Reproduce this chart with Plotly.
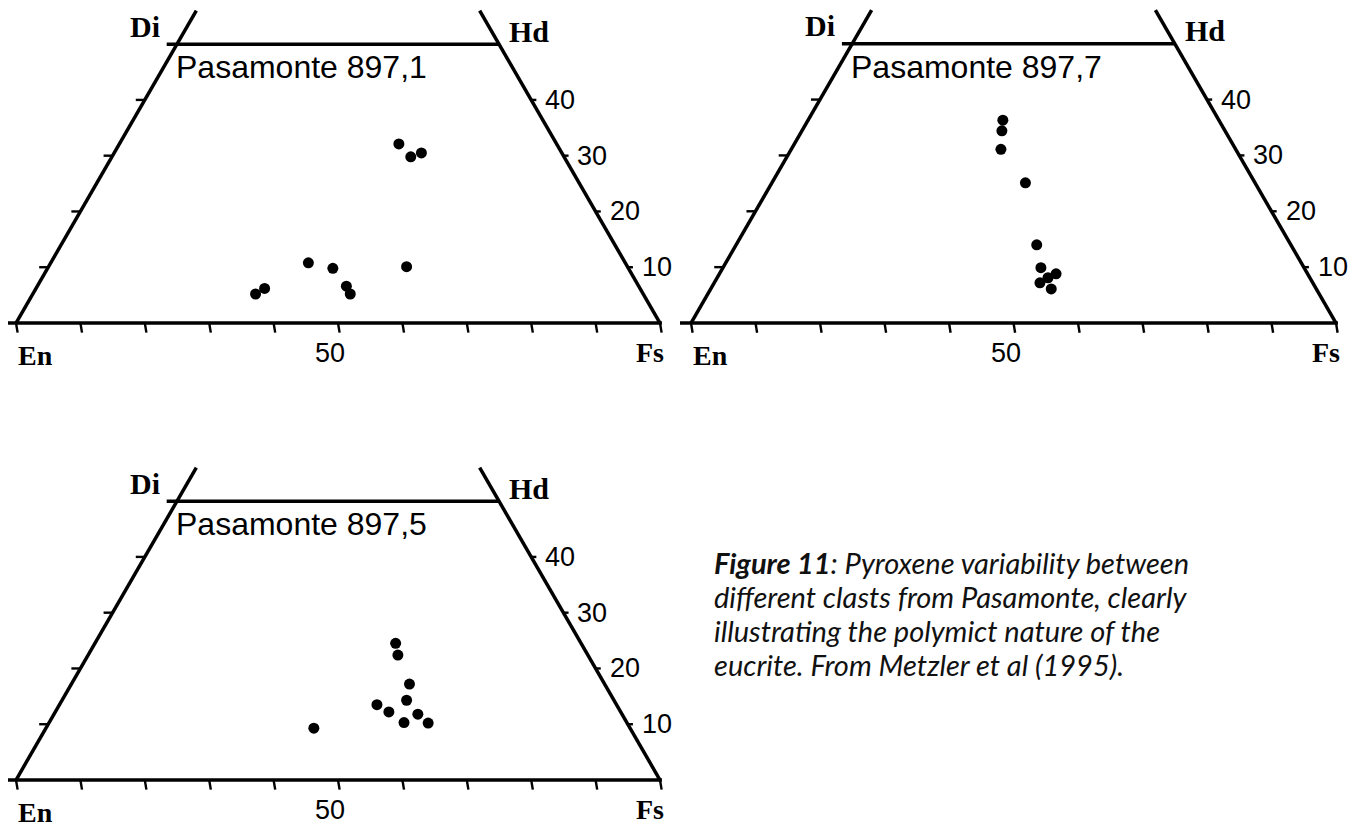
import math
import plotly.graph_objects as go

PAGE_W, PAGE_H = 1359, 828
OFF = 8                      # default page margin around the plot div
W, H = PAGE_W - OFF, PAGE_H - OFF
R3 = math.sqrt(3) / 2

# ---------------- data ----------------
panel_titles = ["Pasamonte 897,1", "Pasamonte 897,7", "Pasamonte 897,5"]

fs_1 = [43.4, 46.4, 47.7, 40.0, 44.3, 55.6, 48.0, 49.3, 34.6, 35.5]
wo_1 = [32.1, 29.8, 30.5, 10.8, 9.8, 10.1, 6.6, 5.2, 5.2, 6.2]

fs_2 = [30.2, 31.0, 32.5, 39.3, 46.6, 49.3, 52.2, 50.5, 52.8, 51.3]
wo_2 = [36.3, 34.4, 31.1, 25.1, 14.0, 9.9, 8.8, 7.2, 6.1, 8.1]

fs_3 = [46.7, 48.1, 52.5, 53.5, 49.3, 51.8, 56.5, 55.1, 58.9, 41.6]
wo_3 = [24.5, 22.4, 17.2, 14.3, 13.5, 12.2, 11.8, 10.3, 10.2, 9.3]

wo_ticks = [10, 20, 30, 40]
wo_tick_labels = ["10", "20", "30", "40"]
fs_ticks = [0, 10, 20, 30, 40, 50, 60, 70, 80, 90, 100]
mid_tick_label = "50"
corner_labels = {"Di": (0, 50), "Hd": (50, 50), "En": (0, 0), "Fs": (100, 0)}  # (Fs, Wo)

caption_lines = [
    "<b>Figure 11</b>: Pyroxene variability between",
    "different clasts from Pasamonte, clearly",
    "illustrating the polymict nature of the",
    "eucrite. From Metzler et al (1995).",
]

panel_fs = [fs_1, fs_2, fs_3]
panel_wo = [wo_1, wo_2, wo_3]

# ---------------- layout geometry (page pixels) ----------------
panels = [
    dict(ex=16, ey=323, s=6.44, box=(OFF, 680, OFF, 400)),
    dict(ex=691, ey=323, s=6.45, box=(680, PAGE_W, OFF, 400)),
    dict(ex=16, ey=780, s=6.44, box=(OFF, 680, 400, PAGE_H)),
]


def tern(fs, wo):
    return fs + wo / 2.0, wo * R3


fig = go.Figure()
layout_axes = {}
annotations = []

serif_top = dict(family="Liberation Serif", size=30, color="black", weight="bold")
serif_bot = dict(family="Liberation Serif", size=28, color="black", weight="bold")
sans_tick = dict(family="Liberation Sans", size=27, color="black")
sans_title = dict(family="Liberation Sans", size=32, color="black")

for i, p in enumerate(panels):
    n = i + 1
    xa = "x" if n == 1 else f"x{n}"
    ya = "y" if n == 1 else f"y{n}"
    x0, x1, y0, y1 = p["box"]
    s = p["s"]
    layout_axes["xaxis" if n == 1 else f"xaxis{n}"] = dict(
        domain=[(x0 - OFF) / W, (x1 - OFF) / W],
        range=[(x0 - p["ex"]) / s, (x1 - p["ex"]) / s],
        visible=False, fixedrange=True,
    )
    layout_axes["yaxis" if n == 1 else f"yaxis{n}"] = dict(
        domain=[1 - (y1 - OFF) / H, 1 - (y0 - OFF) / H],
        range=[(p["ey"] - y1) / s, (p["ey"] - y0) / s],
        visible=False, fixedrange=True,
    )

    # outline: bottom, left, right, top
    lx, ly = [], []

    def seg(a, b):
        lx.extend([a[0], b[0], None])
        ly.extend([a[1], b[1], None])

    seg((-2.0, 0), (100.3, 0))
    seg(tern(0, 0), tern(0, 56))
    seg(tern(100, 0), tern(44, 56))
    di = tern(0, 50)
    hd = tern(50, 50)
    seg((di[0] - 1.6, di[1]), hd)
    fig.add_trace(go.Scatter(x=lx, y=ly, mode="lines", xaxis=xa, yaxis=ya,
                             line=dict(color="black", width=3.5), hoverinfo="skip"))

    # ticks
    tx, ty = [], []
    for f in fs_ticks:
        a = tern(f, 0)
        tx.extend([a[0], a[0] + 0.25, None])
        ty.extend([a[1], a[1] - 1.5, None])
    for w in wo_ticks:
        a = tern(0, w)
        tx.extend([a[0], a[0] - 1.4, None])
        ty.extend([a[1], a[1], None])
        b = tern(100 - w, w)
        tx.extend([b[0], b[0] + 0.8, None])
        ty.extend([b[1], b[1], None])
    fig.add_trace(go.Scatter(x=tx, y=ty, mode="lines", xaxis=xa, yaxis=ya,
                             line=dict(color="black", width=2.4), hoverinfo="skip"))

    # data points
    px, py = zip(*[tern(f, w) for f, w in zip(panel_fs[i], panel_wo[i])])
    fig.add_trace(go.Scatter(x=list(px), y=list(py), mode="markers", xaxis=xa, yaxis=ya,
                             marker=dict(color="black", size=11, line=dict(width=0)),
                             hoverinfo="skip"))

    for lab, (f, w) in corner_labels.items():
        cx, cy = tern(f, w)
        if lab == "Di":
            kw = dict(xanchor="right", yanchor="middle", xshift=-15, yshift=18, font=serif_top)
        elif lab == "Hd":
            kw = dict(xanchor="left", yanchor="middle", xshift=8, yshift=13, font=serif_top)
        elif lab == "En":
            kw = dict(xanchor="left", yanchor="middle", xshift=0, yshift=-32, font=serif_bot)
        else:
            kw = dict(xanchor="right", yanchor="middle", xshift=6, yshift=-29, font=serif_bot)
        annotations.append(dict(x=cx, y=cy, xref=xa, yref=ya, text=lab, showarrow=False, **kw))

    mx, my = tern(50, 0)
    annotations.append(dict(x=mx, y=my, xref=xa, yref=ya, text=mid_tick_label, showarrow=False,
                            xanchor="center", yanchor="middle", xshift=-8, yshift=-30,
                            font=sans_tick))

    for w, t in zip(wo_ticks, wo_tick_labels):
        bx, by = tern(100 - w, w)
        annotations.append(dict(x=bx, y=by, xref=xa, yref=ya, text=t, showarrow=False,
                                xanchor="left", yanchor="middle", xshift=12, yshift=0,
                                font=sans_tick))

    annotations.append(dict(x=di[0], y=di[1], xref=xa, yref=ya, text=panel_titles[i],
                            showarrow=False, xanchor="left", yanchor="middle",
                            xshift=-3, yshift=-23, font=sans_title))

cap_y = [562, 596, 630, 664]
for line, yy in zip(caption_lines, cap_y):
    annotations.append(dict(x=(712 - OFF) / W, y=1 - (yy - OFF) / H, xref="paper", yref="paper",
                            text=line, showarrow=False, xanchor="left", yanchor="middle",
                            font=dict(family="Lato", size=29, color="#111111", style="italic")))

fig.update_layout(
    width=W, height=H,
    margin=dict(l=0, r=0, t=0, b=0),
    paper_bgcolor="white", plot_bgcolor="white",
    showlegend=False,
    annotations=annotations,
    **layout_axes,
)

fig.write_html("out.html")
